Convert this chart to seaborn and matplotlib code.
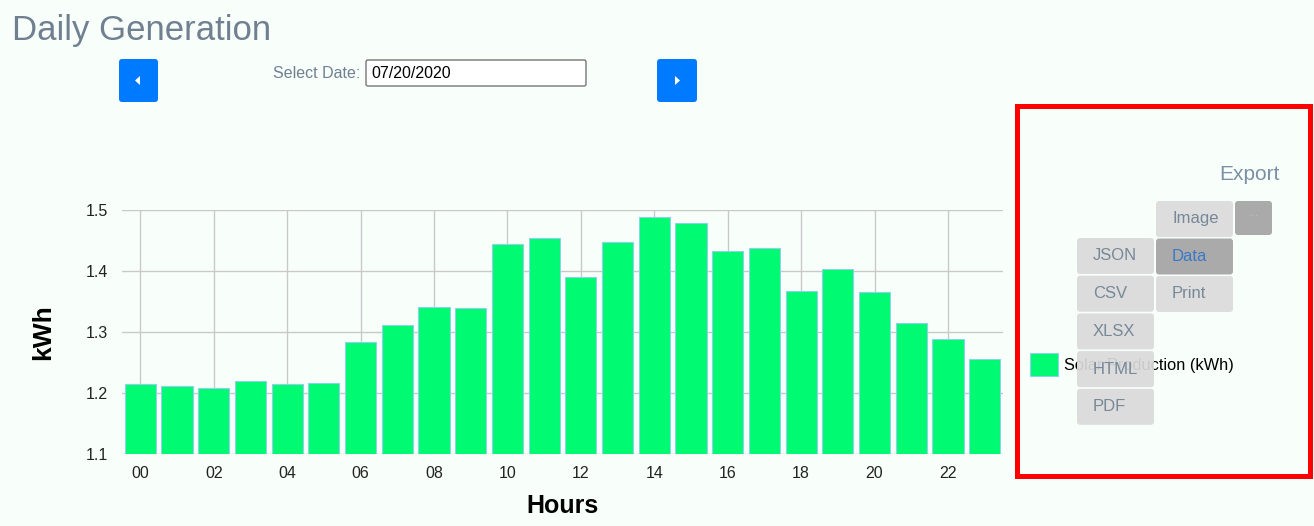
import matplotlib
matplotlib.use('Agg')
import matplotlib.pyplot as plt
import matplotlib.transforms as mtransforms
from matplotlib.patches import FancyBboxPatch, Rectangle, Polygon, Arc
import seaborn as sns

# hourly solar output
hours = ['00', '01', '02', '03', '04', '05', '06', '07', '08', '09', '10', '11',
         '12', '13', '14', '15', '16', '17', '18', '19', '20', '21', '22', '23']
solar_kwh = [1.215, 1.211, 1.208, 1.220, 1.215, 1.217, 1.284, 1.312, 1.341, 1.339, 1.444, 1.454,
             1.390, 1.447, 1.488, 1.479, 1.433, 1.437, 1.367, 1.404, 1.365, 1.315, 1.288, 1.256]
y_ticks = [1.1, 1.2, 1.3, 1.4, 1.5]
series_label = 'Solar Production (kWh)'
selected_date = '07/20/2020'
export_left = ['JSON', 'CSV', 'XLSX', 'HTML', 'PDF']
export_right = ['Image', 'Data', 'Print']

BG = '#f8fffb'
GREEN = '#00fa71'
EDGE = '#8fd0ee'
SLATE = '#708090'
MENU_TXT = '#778899'

plt.rcParams['font.family'] = ['Liberation Sans', 'DejaVu Sans']

W, H = 1314, 526
fig = plt.figure(figsize=(W / 100, H / 100), dpi=100, facecolor=BG)
# pixel coords measured from the top-left corner
T = mtransforms.Affine2D().scale(1 / W, -1 / H).translate(0, 1) + fig.transFigure

ax = fig.add_axes([122 / W, 1 - 454 / H, (1003 - 122) / W, (454 - 210) / H])
ax.set_facecolor(BG)
sns.barplot(x=hours, y=solar_kwh, color=GREEN, saturation=1, width=0.85,
            edgecolor=EDGE, linewidth=0.8, label=series_label, ax=ax)
ax.set_xlim(-0.5, 23.5)
ax.set_ylim(1.1, 1.5)
ax.set_yticks(y_ticks)
ax.set_yticklabels([f'{t:.1f}' for t in y_ticks], fontsize=11.5, color='#222222')
ax.set_xticks(range(0, 24, 2))
ax.set_xticklabels(hours[::2], fontsize=11.5, color='#222222')
ax.tick_params(axis='y', length=0, pad=10)
ax.tick_params(axis='x', length=0, pad=9)
for s in ax.spines.values():
    s.set_visible(False)
ax.grid(True, color='#c9c9c9', linewidth=1)
ax.set_axisbelow(True)

ax.set_xlabel('Hours', fontsize=18, fontweight='bold', va='baseline')
ax.xaxis.set_label_coords(0.5, (454 - 513) / 244)
ax.set_ylabel('kWh', fontsize=19, fontweight='bold', va='center')
ax.yaxis.set_label_coords((43 - 122) / 881, 0.5)

ax.legend(loc='center left', bbox_to_anchor=(1030 / W, 1 - 364.5 / H),
          bbox_transform=fig.transFigure, frameon=False, fontsize=11.8,
          handlelength=1.7, handleheight=1.7, handletextpad=0.37,
          borderpad=0, borderaxespad=0)

# page header
fig.text(12, 40, 'Daily Generation', transform=T, fontsize=25, color=SLATE, va='baseline')


def rbox(x, y, w, h, face, r=3, edge='none', lw=0, alpha=1.0):
    fig.add_artist(FancyBboxPatch((x + r, y + r), w - 2 * r, h - 2 * r,
                                  boxstyle=f'round,pad={r}', transform=T,
                                  facecolor=face, edgecolor=edge, linewidth=lw, alpha=alpha))


rbox(119, 59, 39, 43, '#007bff')
rbox(657, 59, 40, 43, '#007bff')
fig.add_artist(Polygon([(135, 80.5), (140, 76), (140, 85)], closed=True, transform=T,
                       facecolor='white', edgecolor='none'))
fig.add_artist(Polygon([(680, 80.5), (675, 76), (675, 85)], closed=True, transform=T,
                       facecolor='white', edgecolor='none'))
fig.text(360, 73, 'Select Date:', transform=T, fontsize=11.5, color=SLATE, ha='right', va='center')
rbox(366, 60, 220, 26, 'white', r=2, edge='#767676', lw=1)
fig.text(371, 73, selected_date, transform=T, fontsize=11.5, color='black', va='center')

# export menu
fig.text(1280, 174, 'Export', transform=T, fontsize=15, color='#7b8fa5', ha='right', va='center')
bw, bh = 77, 36
for i, name in enumerate(export_left):
    y = 238 + i * 37.7
    rbox(1077, y, bw, bh, '#dadada', alpha=0.93)
    fig.text(1093, y + bh / 2, name, transform=T, fontsize=12, color=MENU_TXT, va='center')
for i, name in enumerate(export_right):
    y = 201 + i * 37.5
    dark = name == 'Data'
    rbox(1156, y, bw, bh, '#aaaaaa' if dark else '#dddddd')
    fig.text(1172, y + bh / 2, name, transform=T, fontsize=12,
             color='#3a78c8' if dark else MENU_TXT, va='center')
rbox(1235, 201, 37, 34, '#aaaaaa')
fig.text(1253.5, 216, '···', transform=T, fontsize=8, color='#c0c8d0', ha='center', va='center')

# red highlight frame
fig.add_artist(Rectangle((1016.5, 106), 293, 370, transform=T, fill=False,
                         edgecolor='#ff0000', linewidth=3.6))

# faint logo corner
fig.add_artist(Arc((48, 528), 26, 26, theta1=0, theta2=180, transform=T,
                   color='#c4c4c4', linewidth=1.2))
fig.add_artist(Arc((63, 529), 24, 20, theta1=0, theta2=180, transform=T,
                   color='#c4c4c4', linewidth=1.2))

fig.savefig('out.png', dpi=100, facecolor=BG)
